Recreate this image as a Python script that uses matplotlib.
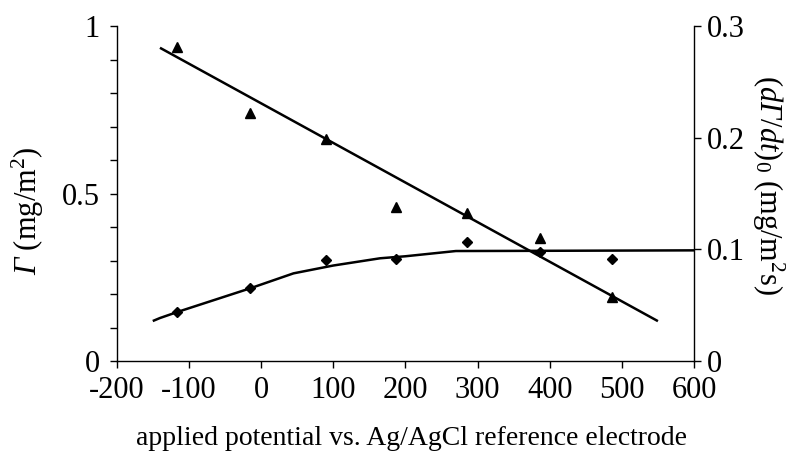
import matplotlib
matplotlib.use("Agg")
import matplotlib.pyplot as plt
from matplotlib.ticker import MultipleLocator, FixedLocator, FixedFormatter

plt.rcParams["font.family"] = ["Liberation Serif", "DejaVu Serif"]
plt.rcParams["mathtext.fontset"] = "custom"
plt.rcParams["mathtext.rm"] = "Liberation Serif"
plt.rcParams["mathtext.it"] = "Liberation Serif:italic"
# \mathsf is used for italic Greek capitals (mathtext keeps \mathit Greek upright)
plt.rcParams["mathtext.sf"] = "Liberation Serif:italic"
plt.rcParams["axes.unicode_minus"] = False

# Applied potential (mV vs. Ag/AgCl)
potential = [-116, -15, 90, 187, 286, 387, 486]
# Adsorbed amount Gamma (mg/m^2), left axis
gamma = [0.938, 0.741, 0.663, 0.461, 0.441, 0.366, 0.192]
# Initial adsorption rate (dGamma/dt)_0 (mg/m^2 s), right axis
rate = [0.0441, 0.0651, 0.0904, 0.0913, 0.1066, 0.0973, 0.0911]

# Linear trend of Gamma
gamma_fit_x = [-140, 550]
gamma_fit_y = [0.935, 0.119]

# Fitted curve of the initial rate
rate_fit_x = [-150, -140, -115, -15, 45, 100, 165, 200, 270, 340, 600]
rate_fit_y = [0.0358, 0.0385, 0.0441, 0.0651, 0.0785, 0.0855, 0.0920,
              0.0938, 0.0985, 0.0986, 0.0991]

x_ticks = [-200, -100, 0, 100, 200, 300, 400, 500, 600]
left_ticks = [0, 0.5, 1]
left_labels = ["0", "0.5", "1"]
right_ticks = [0, 0.1, 0.2, 0.3]
right_labels = ["0", "0.1", "0.2", "0.3"]

fig = plt.figure(figsize=(7.98, 4.54), dpi=100)
ax = fig.add_axes([0.1462, 0.2048, 0.8697 - 0.1462, 0.9427 - 0.2048])
ax2 = ax.twinx()

fs = 22
lw_axis = 1.0

ax.plot(gamma_fit_x, gamma_fit_y, color="black", lw=1.8, solid_capstyle="butt")
ax.plot(potential, gamma, linestyle="none", marker="^", ms=6.5, color="black")
ax2.plot(rate_fit_x, rate_fit_y, color="black", lw=1.8, solid_capstyle="butt")
ax2.plot(potential, rate, linestyle="none", marker="D", ms=4.6, color="black")

ax.set_xlim(-200, 600)
ax.set_ylim(0, 1)
ax2.set_ylim(0, 0.3)

ax.xaxis.set_major_locator(FixedLocator(x_ticks))
ax.set_xticklabels([str(v) for v in x_ticks])
ax.yaxis.set_major_locator(FixedLocator(left_ticks))
ax.yaxis.set_major_formatter(FixedFormatter(left_labels))
ax.yaxis.set_minor_locator(MultipleLocator(0.1))
ax2.yaxis.set_major_locator(FixedLocator(right_ticks))
ax2.yaxis.set_major_formatter(FixedFormatter(right_labels))

for a in (ax, ax2):
    a.spines["top"].set_visible(False)
    for s in a.spines.values():
        s.set_linewidth(lw_axis)
ax.spines["right"].set_visible(False)
ax2.spines["left"].set_visible(False)
ax2.spines["bottom"].set_visible(False)

ax.tick_params(axis="x", which="major", direction="out", length=5, width=lw_axis,
               labelsize=fs, pad=6)
ax.tick_params(axis="y", which="both", direction="out", length=5, width=lw_axis,
               labelsize=fs, pad=7)
ax2.tick_params(axis="y", which="major", direction="out", length=5, width=lw_axis,
                labelsize=fs, pad=4)

ax.set_xlabel("applied potential vs. Ag/AgCl reference electrode", fontsize=20)
ax.xaxis.set_label_coords(0.51, -0.195)
ax.set_ylabel(r"$\mathsf{Γ}\ (\mathrm{mg/m^2})$", fontsize=fs)
ax.yaxis.set_label_coords(-0.123, 0.45)
ax2.set_ylabel(r"$(\mathit{d}\mathsf{Γ}\mathit{/dt})_{\mathit{0}}\ (\mathrm{mg/m^2s})$",
               fontsize=fs, rotation=270)
ax2.yaxis.set_label_coords(1.16, 0.525)

fig.savefig("out.png", dpi=100)
